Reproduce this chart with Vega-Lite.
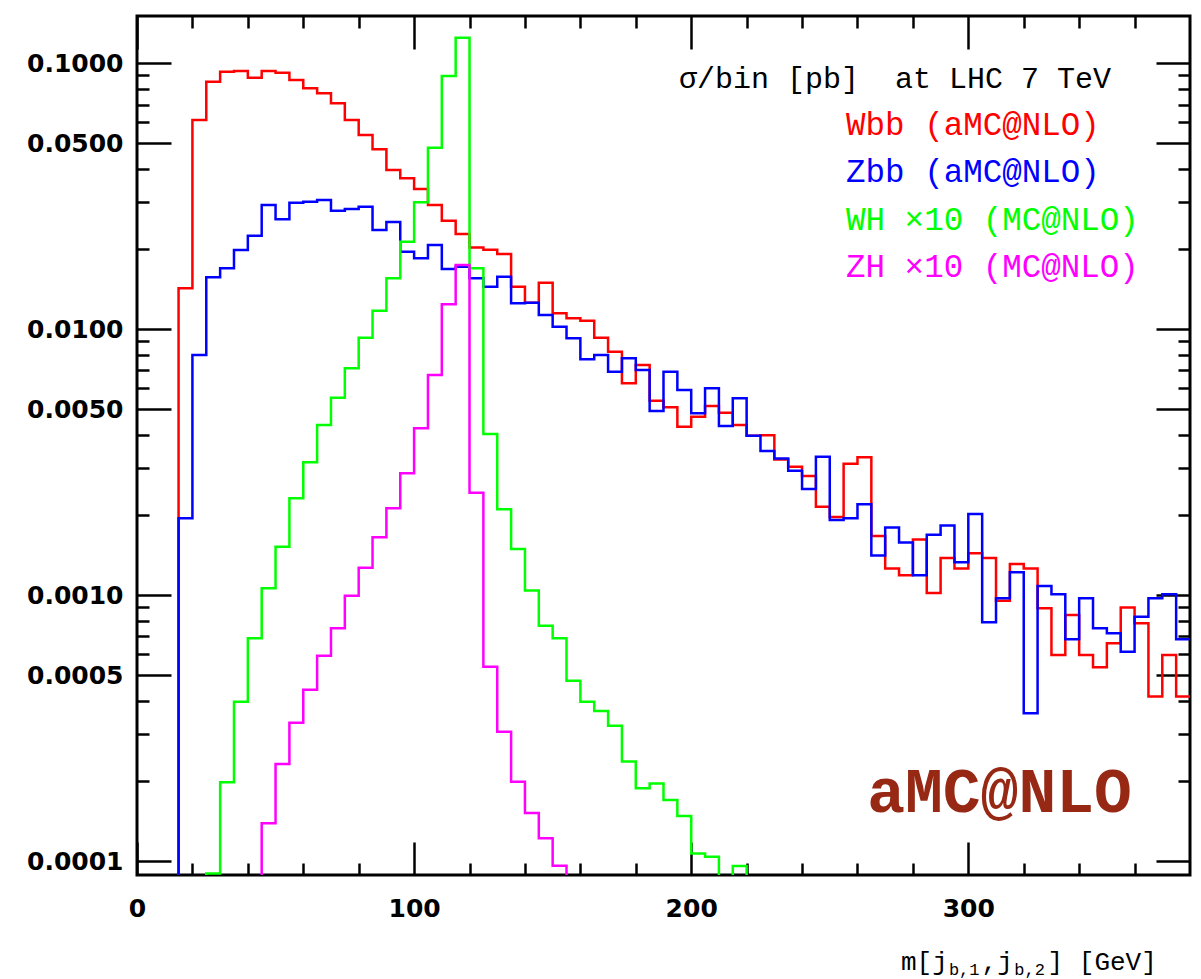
{
  "$schema": "https://vega.github.io/schema/vega-lite/v6.json",
  "width": 1053,
  "height": 859,
  "autosize": {"type": "none"},
  "padding": {"left": 137, "top": 16, "right": 11, "bottom": 104},
  "background": "white",
  "config": {"view": {"stroke": "black", "strokeWidth": 3}},
  "resolve": {"axis": {"x": "independent", "y": "independent"}},
  "layer": [
    {
      "data": {"values": [
        {"s":"Wbb","m":10,"v":0.000001},{"s":"Wbb","m":15,"v":0.01426},{"s":"Wbb","m":20,"v":0.0612},{"s":"Wbb","m":25,"v":0.0853},{"s":"Wbb","m":30,"v":0.0930},{"s":"Wbb","m":35,"v":0.0936},{"s":"Wbb","m":40,"v":0.0883},{"s":"Wbb","m":45,"v":0.0936},{"s":"Wbb","m":50,"v":0.0922},{"s":"Wbb","m":55,"v":0.0866},{"s":"Wbb","m":60,"v":0.0806},{"s":"Wbb","m":65,"v":0.0771},{"s":"Wbb","m":70,"v":0.0707},{"s":"Wbb","m":75,"v":0.0612},{"s":"Wbb","m":80,"v":0.0538},{"s":"Wbb","m":85,"v":0.0475},{"s":"Wbb","m":90,"v":0.0397},{"s":"Wbb","m":95,"v":0.0370},{"s":"Wbb","m":100,"v":0.0337},{"s":"Wbb","m":105,"v":0.0293},{"s":"Wbb","m":110,"v":0.0256},{"s":"Wbb","m":115,"v":0.0228},{"s":"Wbb","m":120,"v":0.0203},{"s":"Wbb","m":125,"v":0.0199},{"s":"Wbb","m":130,"v":0.0192},{"s":"Wbb","m":135,"v":0.01446},{"s":"Wbb","m":140,"v":0.01259},{"s":"Wbb","m":145,"v":0.01497},{"s":"Wbb","m":150,"v":0.01149},{"s":"Wbb","m":155,"v":0.0110},{"s":"Wbb","m":160,"v":0.01077},{"s":"Wbb","m":165,"v":0.00930},{"s":"Wbb","m":170,"v":0.00824},{"s":"Wbb","m":175,"v":0.00627},{"s":"Wbb","m":180,"v":0.00734},{"s":"Wbb","m":185,"v":0.00539},{"s":"Wbb","m":190,"v":0.00509},{"s":"Wbb","m":195,"v":0.00430},{"s":"Wbb","m":200,"v":0.00469},{"s":"Wbb","m":205,"v":0.00515},{"s":"Wbb","m":210,"v":0.00486},{"s":"Wbb","m":215,"v":0.00437},{"s":"Wbb","m":220,"v":0.00398},{"s":"Wbb","m":225,"v":0.00400},{"s":"Wbb","m":230,"v":0.00324},{"s":"Wbb","m":235,"v":0.00304},{"s":"Wbb","m":240,"v":0.00281},{"s":"Wbb","m":245,"v":0.00215},{"s":"Wbb","m":250,"v":0.00197},{"s":"Wbb","m":255,"v":0.00312},{"s":"Wbb","m":260,"v":0.00330},{"s":"Wbb","m":265,"v":0.00167},{"s":"Wbb","m":270,"v":0.00126},{"s":"Wbb","m":275,"v":0.00119},{"s":"Wbb","m":280,"v":0.00162},{"s":"Wbb","m":285,"v":0.00102},{"s":"Wbb","m":290,"v":0.00138},{"s":"Wbb","m":295,"v":0.00126},{"s":"Wbb","m":300,"v":0.00144},{"s":"Wbb","m":305,"v":0.00138},{"s":"Wbb","m":310,"v":0.000954},{"s":"Wbb","m":315,"v":0.00131},{"s":"Wbb","m":320,"v":0.00126},{"s":"Wbb","m":325,"v":0.000894},{"s":"Wbb","m":330,"v":0.000597},{"s":"Wbb","m":335,"v":0.000843},{"s":"Wbb","m":340,"v":0.000597},{"s":"Wbb","m":345,"v":0.000536},{"s":"Wbb","m":350,"v":0.000660},{"s":"Wbb","m":355,"v":0.000899},{"s":"Wbb","m":360,"v":0.000785},{"s":"Wbb","m":365,"v":0.000416},{"s":"Wbb","m":370,"v":0.000597},{"s":"Wbb","m":375,"v":0.000416},{"s":"Wbb","m":380,"v":0.000416},
        {"s":"Zbb","m":10,"v":0.000001},{"s":"Zbb","m":15,"v":0.00195},{"s":"Zbb","m":20,"v":0.00800},{"s":"Zbb","m":25,"v":0.01569},{"s":"Zbb","m":30,"v":0.01696},{"s":"Zbb","m":35,"v":0.01987},{"s":"Zbb","m":40,"v":0.02248},{"s":"Zbb","m":45,"v":0.0293},{"s":"Zbb","m":50,"v":0.02592},{"s":"Zbb","m":55,"v":0.02990},{"s":"Zbb","m":60,"v":0.03016},{"s":"Zbb","m":65,"v":0.03061},{"s":"Zbb","m":70,"v":0.02791},{"s":"Zbb","m":75,"v":0.02833},{"s":"Zbb","m":80,"v":0.02890},{"s":"Zbb","m":85,"v":0.02361},{"s":"Zbb","m":90,"v":0.02532},{"s":"Zbb","m":95,"v":0.01958},{"s":"Zbb","m":100,"v":0.01849},{"s":"Zbb","m":105,"v":0.02074},{"s":"Zbb","m":110,"v":0.01686},{"s":"Zbb","m":115,"v":0.0172},{"s":"Zbb","m":120,"v":0.01555},{"s":"Zbb","m":125,"v":0.01446},{"s":"Zbb","m":130,"v":0.01577},{"s":"Zbb","m":135,"v":0.01252},{"s":"Zbb","m":140,"v":0.01259},{"s":"Zbb","m":145,"v":0.01132},{"s":"Zbb","m":150,"v":0.01023},{"s":"Zbb","m":155,"v":0.00925},{"s":"Zbb","m":160,"v":0.00771},{"s":"Zbb","m":165,"v":0.00800},{"s":"Zbb","m":170,"v":0.00693},{"s":"Zbb","m":175,"v":0.00778},{"s":"Zbb","m":180,"v":0.00703},{"s":"Zbb","m":185,"v":0.00493},{"s":"Zbb","m":190,"v":0.00693},{"s":"Zbb","m":195,"v":0.00591},{"s":"Zbb","m":200,"v":0.00483},{"s":"Zbb","m":205,"v":0.00600},{"s":"Zbb","m":210,"v":0.00433},{"s":"Zbb","m":215,"v":0.00550},{"s":"Zbb","m":220,"v":0.00398},{"s":"Zbb","m":225,"v":0.00349},{"s":"Zbb","m":230,"v":0.00327},{"s":"Zbb","m":235,"v":0.00294},{"s":"Zbb","m":240,"v":0.00251},{"s":"Zbb","m":245,"v":0.00332},{"s":"Zbb","m":250,"v":0.00192},{"s":"Zbb","m":255,"v":0.00195},{"s":"Zbb","m":260,"v":0.00220},{"s":"Zbb","m":265,"v":0.00141},{"s":"Zbb","m":270,"v":0.00180},{"s":"Zbb","m":275,"v":0.00158},{"s":"Zbb","m":280,"v":0.00119},{"s":"Zbb","m":285,"v":0.00169},{"s":"Zbb","m":290,"v":0.00183},{"s":"Zbb","m":295,"v":0.00133},{"s":"Zbb","m":300,"v":0.00202},{"s":"Zbb","m":305,"v":0.000792},{"s":"Zbb","m":310,"v":0.000974},{"s":"Zbb","m":315,"v":0.00122},{"s":"Zbb","m":320,"v":0.000360},{"s":"Zbb","m":325,"v":0.001084},{"s":"Zbb","m":330,"v":0.001009},{"s":"Zbb","m":335,"v":0.000683},{"s":"Zbb","m":340,"v":0.000974},{"s":"Zbb","m":345,"v":0.000751},{"s":"Zbb","m":350,"v":0.000720},{"s":"Zbb","m":355,"v":0.000614},{"s":"Zbb","m":360,"v":0.000831},{"s":"Zbb","m":365,"v":0.000974},{"s":"Zbb","m":370,"v":0.001009},{"s":"Zbb","m":375,"v":0.000683},{"s":"Zbb","m":380,"v":0.000683},
        {"s":"WH","m":20,"v":0.000001},{"s":"WH","m":25,"v":0.0000900},{"s":"WH","m":30,"v":0.000198},{"s":"WH","m":35,"v":0.000398},{"s":"WH","m":40,"v":0.000689},{"s":"WH","m":45,"v":0.001062},{"s":"WH","m":50,"v":0.001523},{"s":"WH","m":55,"v":0.002316},{"s":"WH","m":60,"v":0.003162},{"s":"WH","m":65,"v":0.004368},{"s":"WH","m":70,"v":0.005532},{"s":"WH","m":75,"v":0.007135},{"s":"WH","m":80,"v":0.00930},{"s":"WH","m":85,"v":0.01175},{"s":"WH","m":90,"v":0.01555},{"s":"WH","m":95,"v":0.02135},{"s":"WH","m":100,"v":0.03001},{"s":"WH","m":105,"v":0.04818},{"s":"WH","m":110,"v":0.0896},{"s":"WH","m":115,"v":0.1248},{"s":"WH","m":120,"v":0.01696},{"s":"WH","m":125,"v":0.00404},{"s":"WH","m":130,"v":0.002105},{"s":"WH","m":135,"v":0.001493},{"s":"WH","m":140,"v":0.001042},{"s":"WH","m":145,"v":0.000768},{"s":"WH","m":150,"v":0.000689},{"s":"WH","m":155,"v":0.000477},{"s":"WH","m":160,"v":0.000398},{"s":"WH","m":165,"v":0.000367},{"s":"WH","m":170,"v":0.000323},{"s":"WH","m":175,"v":0.000237},{"s":"WH","m":180,"v":0.000188},{"s":"WH","m":185,"v":0.000196},{"s":"WH","m":190,"v":0.000170},{"s":"WH","m":195,"v":0.000148},{"s":"WH","m":200,"v":0.000107},{"s":"WH","m":205,"v":0.000104},{"s":"WH","m":210,"v":0.000001},{"s":"WH","m":215,"v":0.0000960},{"s":"WH","m":220,"v":0.000001},
        {"s":"ZH","m":40,"v":0.000001},{"s":"ZH","m":45,"v":0.000139},{"s":"ZH","m":50,"v":0.000232},{"s":"ZH","m":55,"v":0.000332},{"s":"ZH","m":60,"v":0.000441},{"s":"ZH","m":65,"v":0.000593},{"s":"ZH","m":70,"v":0.000751},{"s":"ZH","m":75,"v":0.000997},{"s":"ZH","m":80,"v":0.001270},{"s":"ZH","m":85,"v":0.001652},{"s":"ZH","m":90,"v":0.002124},{"s":"ZH","m":95,"v":0.002874},{"s":"ZH","m":100,"v":0.004244},{"s":"ZH","m":105,"v":0.006733},{"s":"ZH","m":110,"v":0.01242},{"s":"ZH","m":115,"v":0.01745},{"s":"ZH","m":120,"v":0.002430},{"s":"ZH","m":125,"v":0.000539},{"s":"ZH","m":130,"v":0.000307},{"s":"ZH","m":135,"v":0.000199},{"s":"ZH","m":140,"v":0.000152},{"s":"ZH","m":145,"v":0.000122},{"s":"ZH","m":150,"v":0.0000963},{"s":"ZH","m":155,"v":0.000001}
      ]},
      "mark": {"type": "line", "interpolate": "step-after", "strokeWidth": 2.5, "clip": true},
      "encoding": {
        "x": {"field": "m", "type": "quantitative",
          "scale": {"domain": [0, 380], "nice": false, "zero": false},
          "axis": {"orient": "bottom", "values": [0,20,40,60,80,100,120,140,160,180,200,220,240,260,280,300,320,340,360],
            "tickSize": {"condition": {"test": "datum.value % 100 === 0", "value": -33}, "value": -12},
            "tickWidth": 2.5, "tickColor": "black", "domain": false, "grid": false,
            "labelExpr": "datum.value % 100 === 0 ? datum.label : ''",
            "labelFont": "DejaVu Sans", "labelFontWeight": "bold", "labelFontSize": 25, "labelColor": "black",
            "labelPadding": 54, "labelFlush": false, "labelOverlap": false, "labelBound": false, "labelBaseline": "top", "title": null}},
        "y": {"field": "v", "type": "quantitative",
          "scale": {"type": "log", "domain": [0.0000888, 0.1506], "nice": false, "zero": false},
          "axis": {"orient": "left", "values": [0.0001,0.0002,0.0003,0.0004,0.0005,0.0006,0.0007,0.0008,0.0009,0.001,0.002,0.003,0.004,0.005,0.006,0.007,0.008,0.009,0.01,0.02,0.03,0.04,0.05,0.06,0.07,0.08,0.09,0.1],
            "tickSize": {"condition": {"test": "round(datum.value / pow(10, floor(log(datum.value) / LN10 + 0.000001))) == 1 || round(datum.value / pow(10, floor(log(datum.value) / LN10 + 0.000001))) == 5", "value": -34}, "value": -12},
            "tickWidth": 2.5, "tickColor": "black", "domain": false, "grid": false,
            "labelExpr": "(round(datum.value / pow(10, floor(log(datum.value) / LN10 + 0.000001))) == 1 || round(datum.value / pow(10, floor(log(datum.value) / LN10 + 0.000001))) == 5) ? format(datum.value, '.4f') : ''",
            "labelFont": "DejaVu Sans", "labelFontWeight": "bold", "labelFontSize": 25, "labelColor": "black",
            "labelPadding": 48, "labelOverlap": false, "labelBound": false, "labelFlush": false, "title": null}},
        "color": {"field": "s", "type": "nominal",
          "scale": {"domain": ["Wbb", "Zbb", "WH", "ZH"], "range": ["#FF0000", "#0000FF", "#00FF00", "#FF00FF"]},
          "legend": null}
      }
    },
    {
      "data": {"values": [{}]},
      "mark": {"type": "text", "text": "aMC@NLO", "font": "Liberation Mono", "fontSize": 63, "fontWeight": "bold", "color": "#962814", "align": "left", "baseline": "alphabetic"},
      "encoding": {
        "x": {"datum": 263.5, "type": "quantitative",
          "axis": {"orient": "top", "values": [0,20,40,60,80,100,120,140,160,180,200,220,240,260,280,300,320,340,360],
            "tickSize": {"condition": {"test": "datum.value % 100 === 0", "value": -33}, "value": -12},
            "tickWidth": 2.5, "tickColor": "black", "domain": false, "grid": false, "labels": false, "title": null}},
        "y": {"datum": 0.0001532, "type": "quantitative",
          "axis": {"orient": "right", "values": [0.0001,0.0002,0.0003,0.0004,0.0005,0.0006,0.0007,0.0008,0.0009,0.001,0.002,0.003,0.004,0.005,0.006,0.007,0.008,0.009,0.01,0.02,0.03,0.04,0.05,0.06,0.07,0.08,0.09,0.1],
            "tickSize": {"condition": {"test": "round(datum.value / pow(10, floor(log(datum.value) / LN10 + 0.000001))) == 1 || round(datum.value / pow(10, floor(log(datum.value) / LN10 + 0.000001))) == 5", "value": -34}, "value": -12},
            "tickWidth": 2.5, "tickColor": "black", "domain": false, "grid": false, "labels": false, "title": null}}
      }
    },
    {
      "data": {"values": [{}]},
      "mark": {"type": "text", "text": "σ/bin [pb]\u00a0 at LHC 7 TeV", "font": "Liberation Mono", "fontSize": 30, "color": "black", "align": "left", "baseline": "alphabetic"},
      "encoding": {"x": {"datum": 195.6, "type": "quantitative", "axis": null}, "y": {"datum": 0.08074, "type": "quantitative", "axis": null}}
    },
    {
      "data": {"values": [{}]},
      "mark": {"type": "text", "text": "Wbb (aMC@NLO)", "font": "Liberation Mono", "fontSize": 32.5, "color": "#FF0000", "align": "left", "baseline": "alphabetic"},
      "encoding": {"x": {"datum": 255.9, "type": "quantitative", "axis": null}, "y": {"datum": 0.05376, "type": "quantitative", "axis": null}}
    },
    {
      "data": {"values": [{}]},
      "mark": {"type": "text", "text": "Zbb (aMC@NLO)", "font": "Liberation Mono", "fontSize": 32.5, "color": "#0000FF", "align": "left", "baseline": "alphabetic"},
      "encoding": {"x": {"datum": 255.9, "type": "quantitative", "axis": null}, "y": {"datum": 0.03579, "type": "quantitative", "axis": null}}
    },
    {
      "data": {"values": [{}]},
      "mark": {"type": "text", "text": "WH ×10 (MC@NLO)", "font": "Liberation Mono", "fontSize": 32.5, "color": "#00FF00", "align": "left", "baseline": "alphabetic"},
      "encoding": {"x": {"datum": 255.9, "type": "quantitative", "axis": null}, "y": {"datum": 0.02362, "type": "quantitative", "axis": null}}
    },
    {
      "data": {"values": [{}]},
      "mark": {"type": "text", "text": "ZH ×10 (MC@NLO)", "font": "Liberation Mono", "fontSize": 32.5, "color": "#FF00FF", "align": "left", "baseline": "alphabetic"},
      "encoding": {"x": {"datum": 255.9, "type": "quantitative", "axis": null}, "y": {"datum": 0.01573, "type": "quantitative", "axis": null}}
    },
    {
      "data": {"values": [{}]},
      "mark": {"type": "text", "text": "m[j", "font": "Liberation Mono", "fontSize": 26, "color": "black", "align": "left", "baseline": "alphabetic"},
      "encoding": {"x": {"datum": 275.7, "type": "quantitative", "axis": null}, "y": {"datum": 0.00003902, "type": "quantitative", "axis": null}}
    },
    {
      "data": {"values": [{}]},
      "mark": {"type": "text", "text": "b,1", "font": "Liberation Mono", "fontSize": 17, "color": "black", "align": "left", "baseline": "alphabetic"},
      "encoding": {"x": {"datum": 293.0, "type": "quantitative", "axis": null}, "y": {"datum": 0.00003737, "type": "quantitative", "axis": null}}
    },
    {
      "data": {"values": [{}]},
      "mark": {"type": "text", "text": ",j", "font": "Liberation Mono", "fontSize": 26, "color": "black", "align": "left", "baseline": "alphabetic"},
      "encoding": {"x": {"datum": 304.8, "type": "quantitative", "axis": null}, "y": {"datum": 0.00003902, "type": "quantitative", "axis": null}}
    },
    {
      "data": {"values": [{}]},
      "mark": {"type": "text", "text": "b,2", "font": "Liberation Mono", "fontSize": 17, "color": "black", "align": "left", "baseline": "alphabetic"},
      "encoding": {"x": {"datum": 316.6, "type": "quantitative", "axis": null}, "y": {"datum": 0.00003737, "type": "quantitative", "axis": null}}
    },
    {
      "data": {"values": [{}]},
      "mark": {"type": "text", "text": "] [GeV]", "font": "Liberation Mono", "fontSize": 26, "color": "black", "align": "left", "baseline": "alphabetic"},
      "encoding": {"x": {"datum": 328.6, "type": "quantitative", "axis": null}, "y": {"datum": 0.00003902, "type": "quantitative", "axis": null}}
    }
  ]
}
